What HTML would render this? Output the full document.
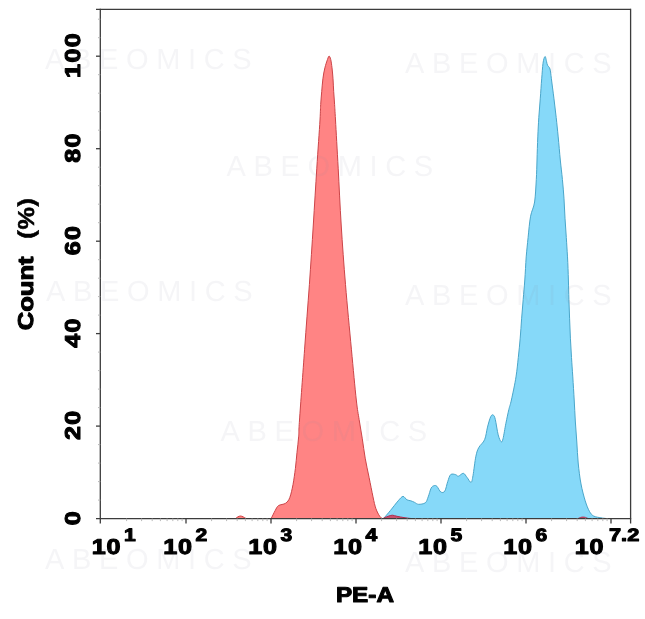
<!DOCTYPE html>
<html><head><meta charset="utf-8"><title>PE-A histogram</title>
<style>
html,body{margin:0;padding:0;background:#fff;}
svg{display:block;}
text{font-family:"Liberation Sans",sans-serif;font-weight:bold;text-rendering:geometricPrecision;}
.wm{font-weight:normal;fill:#8c8ca8;fill-opacity:0.085;font-size:29px;}
.lb{fill:#000;stroke:#000;stroke-width:1.05px;stroke-linejoin:round;}
</style></head>
<body>
<svg width="645" height="619" viewBox="0 0 645 619">
<rect width="645" height="619" fill="#ffffff"/>
<path d="M383.6,518.5C384.7,517.2 388.0,513.5 390.4,510.5C392.8,507.6 396.1,503.2 398.2,500.8C400.3,498.4 401.6,496.6 403.0,496.4C404.4,496.2 405.6,499.1 406.9,499.8C408.2,500.5 409.5,500.4 410.8,500.8C412.1,501.2 413.3,501.8 414.6,502.4C415.9,503.0 416.7,504.2 418.5,504.3C420.3,504.4 423.7,504.0 425.3,502.8C426.9,501.6 427.2,499.3 428.2,496.9C429.2,494.5 430.1,490.1 431.1,488.2C432.1,486.3 433.0,486.0 434.0,485.7C435.0,485.4 435.8,485.2 436.9,486.3C438.0,487.4 439.5,491.2 440.8,492.0C442.1,492.8 443.6,492.9 444.8,491.1C446.0,489.3 446.8,484.1 447.8,481.4C448.8,478.6 449.4,475.7 450.7,474.6C452.0,473.5 454.2,474.3 455.5,474.6C456.8,474.9 457.1,476.4 458.4,476.2C459.7,476.0 461.9,473.1 463.3,473.3C464.8,473.5 465.8,476.0 467.1,477.5C468.4,479.0 470.0,482.7 471.0,482.4C472.0,482.1 472.2,480.0 473.0,475.6C473.8,471.2 474.9,460.9 475.9,456.2C476.9,451.5 477.4,450.2 478.8,447.5C480.2,444.8 483.2,443.1 484.6,439.7C486.1,436.3 486.5,431.0 487.5,427.1C488.5,423.2 489.8,418.5 490.8,416.5C491.8,414.5 492.6,414.6 493.3,415.1C494.1,415.6 494.5,416.1 495.3,419.4C496.1,422.7 497.2,431.2 498.2,434.9C499.2,438.6 500.3,441.0 501.1,441.7C501.9,442.4 502.2,441.9 503.0,438.8C503.8,435.7 504.9,428.2 505.9,423.3C506.9,418.4 507.9,413.6 508.8,409.7C509.7,405.8 510.2,405.5 511.4,400.0C512.6,394.5 514.9,384.0 516.0,376.9C517.1,369.8 517.6,363.9 518.3,357.5C519.0,351.1 519.7,344.6 520.2,338.2C520.8,331.8 521.1,325.3 521.6,318.8C522.1,312.3 522.7,305.9 523.2,299.4C523.7,292.9 524.3,287.1 524.8,280.0C525.3,272.9 525.7,264.0 526.2,256.9C526.8,249.8 527.4,244.3 528.1,237.5C528.8,230.7 529.5,222.1 530.6,216.2C531.7,210.3 533.7,208.1 534.6,202.0C535.5,195.9 535.9,186.4 536.3,179.4C536.7,172.4 536.8,167.1 537.0,160.0C537.2,152.9 537.5,144.0 537.8,136.9C538.1,129.8 538.4,124.0 538.8,117.5C539.2,111.0 539.8,104.7 540.3,98.2C540.8,91.8 541.2,84.6 541.7,78.8C542.2,73.0 542.5,67.0 543.0,63.3C543.5,59.6 544.4,56.8 545.0,56.5C545.6,56.2 546.1,59.8 546.5,61.3C546.9,62.8 546.9,63.9 547.5,65.2C548.1,66.5 549.4,66.8 550.0,69.1C550.6,71.4 550.8,73.9 551.4,78.8C552.0,83.7 553.1,91.8 553.9,98.2C554.7,104.7 555.5,111.0 556.2,117.5C556.9,124.0 557.5,129.8 558.2,136.9C558.9,144.0 559.6,152.9 560.3,160.0C561.0,167.1 561.8,172.9 562.4,179.4C563.0,185.9 563.6,192.3 564.0,198.8C564.4,205.3 564.6,211.8 565.0,218.2C565.4,224.6 565.9,231.1 566.3,237.5C566.7,243.9 567.1,249.8 567.5,256.9C567.9,264.0 568.2,272.9 568.4,280.0C568.6,287.1 568.7,292.9 568.9,299.4C569.1,305.9 569.4,312.3 569.6,318.8C569.9,325.3 570.1,331.8 570.4,338.2C570.7,344.6 571.1,351.1 571.5,357.5C571.9,363.9 572.3,369.8 572.8,376.9C573.2,384.0 573.8,392.6 574.2,400.0C574.6,407.4 574.9,414.0 575.3,421.0C575.7,428.0 576.3,435.0 576.8,442.0C577.3,449.0 577.5,456.0 578.2,463.0C578.9,470.0 579.8,477.7 581.0,484.0C582.2,490.3 583.8,496.2 585.2,500.8C586.6,505.4 588.0,508.8 589.4,511.3C590.8,513.8 591.7,514.9 593.6,516.0C595.5,517.1 598.8,517.4 600.9,517.8C603.0,518.2 605.1,518.4 606.0,518.5Z" fill="#86d9f9" stroke="#4aa6ca" stroke-width="1" stroke-linejoin="round"/>
<path d="M271.2,518.5C271.9,517.2 274.0,512.6 275.2,510.5C276.4,508.4 276.8,506.8 278.5,505.6C280.2,504.4 283.8,504.6 285.7,503.2C287.6,501.8 288.6,500.6 289.8,497.5C291.0,494.4 292.1,489.4 293.0,484.6C293.9,479.8 294.7,473.9 295.4,468.5C296.1,463.1 296.4,457.7 297.0,452.3C297.6,446.9 298.3,441.6 298.7,436.2C299.1,430.8 298.5,434.5 299.5,420.0C300.5,405.5 303.0,371.8 304.6,349.2C306.2,326.6 307.9,305.3 309.4,284.6C310.8,263.9 312.1,244.4 313.3,225.0C314.5,205.6 315.7,185.7 316.8,168.2C317.9,150.7 319.4,130.6 320.0,120.0C320.6,109.4 320.4,109.3 320.7,104.6C321.0,99.9 321.3,96.0 321.7,91.7C322.1,87.4 322.4,82.8 322.9,78.8C323.4,74.8 324.1,71.0 324.9,67.8C325.7,64.6 326.8,61.3 327.5,59.4C328.2,57.5 328.6,56.1 329.1,56.1C329.6,56.1 330.2,57.5 330.7,59.4C331.2,61.3 331.6,64.6 332.0,67.8C332.4,71.0 332.7,74.8 333.0,78.8C333.3,82.8 333.4,87.4 333.7,91.7C334.0,96.0 334.3,99.9 334.6,104.6C334.9,109.3 334.9,109.4 335.5,120.0C336.1,130.6 337.2,150.7 338.2,168.2C339.1,185.7 340.0,205.6 341.2,225.0C342.4,244.4 343.8,263.9 345.5,284.6C347.2,305.3 349.6,330.0 351.4,349.2C353.2,368.4 355.0,388.3 356.3,400.0C357.6,411.7 358.1,412.9 359.1,419.4C360.1,425.9 361.3,432.3 362.3,438.8C363.3,445.3 364.1,451.8 365.2,458.2C366.3,464.6 367.8,471.1 369.1,477.5C370.4,483.9 371.9,491.7 373.0,496.9C374.1,502.1 374.8,505.4 375.9,508.6C377.0,511.8 378.6,514.6 379.7,516.3C380.8,517.9 382.0,518.1 382.5,518.5Z" fill="#ff8484" stroke="#cc4448" stroke-width="1" stroke-linejoin="round"/>
<path d="M235.5,518.5C235.9,518.2 237.2,517.2 238.0,516.8C238.8,516.4 239.7,516.0 240.5,516.0C241.3,516.0 242.1,516.4 243.0,516.8C243.9,517.2 245.5,518.2 246.0,518.5Z" fill="#ff8484" stroke="#d23c3c" stroke-width="1"/>
<path d="M383.0,518.5C383.8,518.1 386.4,516.8 388.0,516.3C389.6,515.8 390.8,515.2 392.3,515.2C393.8,515.2 395.1,515.9 397.0,516.3C398.9,516.7 401.7,517.2 404.0,517.6C406.3,518.0 409.8,518.4 411.0,518.5Z" fill="#c8506e" stroke="#b03050" stroke-width="1"/>
<path d="M578.0,518.5C578.5,518.3 580.2,517.5 581.0,517.3C581.8,517.0 582.2,517.0 583.0,517.0C583.8,517.0 584.7,517.1 585.5,517.4C586.3,517.6 587.6,518.3 588.0,518.5Z" fill="#c8506e" stroke="#b03050" stroke-width="0.8"/>
<g stroke="#3c3c3c" stroke-width="1.3" fill="none" shape-rendering="auto">
<path d="M96,9.3H630.6"/>
<path d="M100.3,8.700000000000001V523.4"/>
<path d="M96,518.6H631.2"/>
<path d="M630.6,8.700000000000001V523.4"/>
<path d="M96,426.1H100.3"/>
<path d="M96,333.6H100.3"/>
<path d="M96,241.2H100.3"/>
<path d="M96,148.7H100.3"/>
<path d="M96,56.2H100.3"/>
<path d="M186.0,518.6V523.4"/>
<path d="M271.0,518.6V523.4"/>
<path d="M356.0,518.6V523.4"/>
<path d="M441.0,518.6V523.4"/>
<path d="M526.0,518.6V523.4"/>
<path d="M611.0,518.6V523.4"/>
</g>
<g stroke="#b8b8b8" stroke-width="1" fill="none">
<path d="M98,500.1H100.3"/>
<path d="M98,481.6H100.3"/>
<path d="M98,463.1H100.3"/>
<path d="M98,444.6H100.3"/>
<path d="M98,407.6H100.3"/>
<path d="M98,389.1H100.3"/>
<path d="M98,370.6H100.3"/>
<path d="M98,352.1H100.3"/>
<path d="M98,315.1H100.3"/>
<path d="M98,296.6H100.3"/>
<path d="M98,278.2H100.3"/>
<path d="M98,259.7H100.3"/>
<path d="M98,222.7H100.3"/>
<path d="M98,204.2H100.3"/>
<path d="M98,185.7H100.3"/>
<path d="M98,167.2H100.3"/>
<path d="M98,130.2H100.3"/>
<path d="M98,111.7H100.3"/>
<path d="M98,93.2H100.3"/>
<path d="M98,74.7H100.3"/>
<path d="M98,37.7H100.3"/>
<path d="M98,19.2H100.3"/>
<path d="M126.6,518.6V521.1"/>
<path d="M141.6,518.6V521.1"/>
<path d="M152.2,518.6V521.1"/>
<path d="M160.4,518.6V521.1"/>
<path d="M167.1,518.6V521.1"/>
<path d="M172.8,518.6V521.1"/>
<path d="M177.8,518.6V521.1"/>
<path d="M182.1,518.6V521.1"/>
<path d="M211.6,518.6V521.1"/>
<path d="M226.6,518.6V521.1"/>
<path d="M237.2,518.6V521.1"/>
<path d="M245.4,518.6V521.1"/>
<path d="M252.1,518.6V521.1"/>
<path d="M257.8,518.6V521.1"/>
<path d="M262.8,518.6V521.1"/>
<path d="M267.1,518.6V521.1"/>
<path d="M296.6,518.6V521.1"/>
<path d="M311.6,518.6V521.1"/>
<path d="M322.2,518.6V521.1"/>
<path d="M330.4,518.6V521.1"/>
<path d="M337.1,518.6V521.1"/>
<path d="M342.8,518.6V521.1"/>
<path d="M347.8,518.6V521.1"/>
<path d="M352.1,518.6V521.1"/>
<path d="M381.6,518.6V521.1"/>
<path d="M396.6,518.6V521.1"/>
<path d="M407.2,518.6V521.1"/>
<path d="M415.4,518.6V521.1"/>
<path d="M422.1,518.6V521.1"/>
<path d="M427.8,518.6V521.1"/>
<path d="M432.8,518.6V521.1"/>
<path d="M437.1,518.6V521.1"/>
<path d="M466.6,518.6V521.1"/>
<path d="M481.6,518.6V521.1"/>
<path d="M492.2,518.6V521.1"/>
<path d="M500.4,518.6V521.1"/>
<path d="M507.1,518.6V521.1"/>
<path d="M512.8,518.6V521.1"/>
<path d="M517.8,518.6V521.1"/>
<path d="M522.1,518.6V521.1"/>
<path d="M551.6,518.6V521.1"/>
<path d="M566.6,518.6V521.1"/>
<path d="M577.2,518.6V521.1"/>
<path d="M585.4,518.6V521.1"/>
<path d="M592.1,518.6V521.1"/>
<path d="M597.8,518.6V521.1"/>
<path d="M602.8,518.6V521.1"/>
<path d="M607.1,518.6V521.1"/>
</g>
<text class="lb" transform="translate(91.7,554.0) scale(1.17,1)" font-size="21.5" letter-spacing="0.7">10</text>
<text class="lb" transform="translate(124.0,541.4) scale(1.17,1)" font-size="18">1</text>
<text class="lb" transform="translate(163.2,554.0) scale(1.17,1)" font-size="21.5" letter-spacing="0.7">10</text>
<text class="lb" transform="translate(195.5,541.4) scale(1.17,1)" font-size="18">2</text>
<text class="lb" transform="translate(248.2,554.0) scale(1.17,1)" font-size="21.5" letter-spacing="0.7">10</text>
<text class="lb" transform="translate(280.5,541.4) scale(1.17,1)" font-size="18">3</text>
<text class="lb" transform="translate(333.2,554.0) scale(1.17,1)" font-size="21.5" letter-spacing="0.7">10</text>
<text class="lb" transform="translate(365.5,541.4) scale(1.17,1)" font-size="18">4</text>
<text class="lb" transform="translate(418.2,554.0) scale(1.17,1)" font-size="21.5" letter-spacing="0.7">10</text>
<text class="lb" transform="translate(450.5,541.4) scale(1.17,1)" font-size="18">5</text>
<text class="lb" transform="translate(503.2,554.0) scale(1.17,1)" font-size="21.5" letter-spacing="0.7">10</text>
<text class="lb" transform="translate(535.5,541.4) scale(1.17,1)" font-size="18">6</text>
<text class="lb" transform="translate(574.7,554.0) scale(1.17,1)" font-size="21.5" letter-spacing="0.7">10</text>
<text class="lb" transform="translate(609.0,541.4) scale(1.21,1)" font-size="18">7.2</text>
<text class="lb" transform="translate(79.6,525.3) rotate(-90) scale(1.17,1)" font-size="21.5" letter-spacing="1.1">0</text>
<text class="lb" transform="translate(79.6,440.1) rotate(-90) scale(1.17,1)" font-size="21.5" letter-spacing="1.1">20</text>
<text class="lb" transform="translate(79.6,347.7) rotate(-90) scale(1.17,1)" font-size="21.5" letter-spacing="1.1">40</text>
<text class="lb" transform="translate(79.6,255.2) rotate(-90) scale(1.17,1)" font-size="21.5" letter-spacing="1.1">60</text>
<text class="lb" transform="translate(79.6,162.7) rotate(-90) scale(1.17,1)" font-size="21.5" letter-spacing="1.1">80</text>
<text class="lb" transform="translate(79.6,77.9) rotate(-90) scale(1.17,1)" font-size="21.5" letter-spacing="1.1">100</text>
<text class="lb" transform="translate(33.3,330.3) rotate(-90) scale(1.19,1)" font-size="21.5">Count</text>
<text transform="translate(33.6,238.7) rotate(-90) scale(1.1,1)" font-size="23" letter-spacing="0.6" fill="#000" stroke="#000" stroke-width="0.5">(%)</text>
<text class="lb" transform="translate(335.9,601.5) scale(1.13,1)" font-size="21.5">PE-A</text>
<text class="wm" x="45" y="69.2" letter-spacing="7.65">ABEOMICS</text>
<text class="wm" x="405" y="72.8" letter-spacing="7.65">ABEOMICS</text>
<text class="wm" x="226.5" y="175.5" letter-spacing="7.65">ABEOMICS</text>
<text class="wm" x="46" y="301.3" letter-spacing="7.65">ABEOMICS</text>
<text class="wm" x="405" y="305.3" letter-spacing="7.65">ABEOMICS</text>
<text class="wm" x="220.5" y="441" letter-spacing="7.65">ABEOMICS</text>
<text class="wm" x="45" y="569.3" letter-spacing="7.65">ABEOMICS</text>
<text class="wm" x="405" y="572" letter-spacing="7.65">ABEOMICS</text>
</svg>
</body></html>
